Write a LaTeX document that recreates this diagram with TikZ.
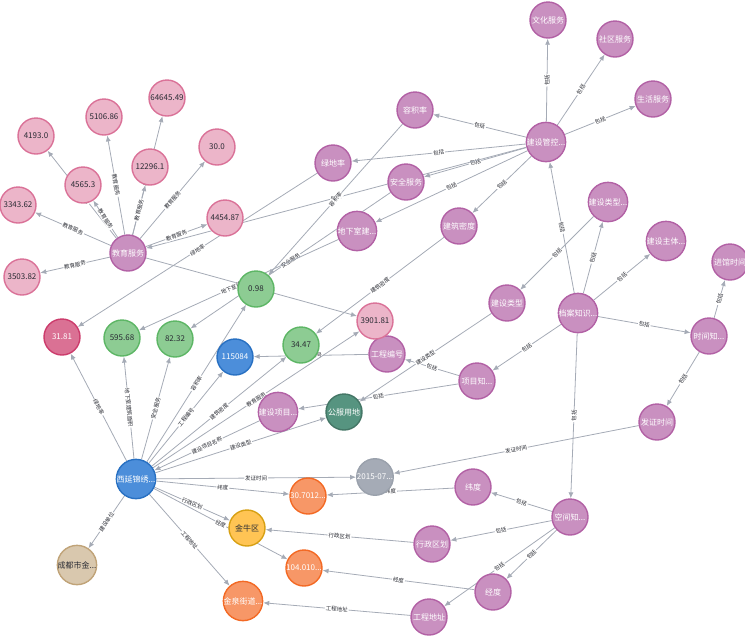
\documentclass[tikz,border=0pt]{standalone}
\usepackage{fontspec}
\newfontfamily\cjk{Noto Sans CJK SC}
\usetikzlibrary{arrows.meta}
\pgfdeclarelayer{bg}
\pgfsetlayers{bg,main}
\definecolor{purF}{HTML}{C990C0}\definecolor{purD}{HTML}{B261A5}
\definecolor{pinkF}{HTML}{ECB5C9}\definecolor{pinkD}{HTML}{DA7298}
\definecolor{dpinkF}{HTML}{DA7194}\definecolor{dpinkD}{HTML}{CC3C6C}
\definecolor{grnF}{HTML}{8DCC93}\definecolor{grnD}{HTML}{5DB665}
\definecolor{bluF}{HTML}{4C8EDA}\definecolor{bluD}{HTML}{2870C2}
\definecolor{dgrnF}{HTML}{569480}\definecolor{dgrnD}{HTML}{447666}
\definecolor{grayF}{HTML}{A5ABB6}\definecolor{grayD}{HTML}{9AA1AC}
\definecolor{orgF}{HTML}{F79767}\definecolor{orgD}{HTML}{F36924}
\definecolor{yelF}{HTML}{FFC454}\definecolor{yelD}{HTML}{D7A013}
\definecolor{tanF}{HTML}{D9C8AE}\definecolor{tanD}{HTML}{C0A378}
\definecolor{edgeC}{HTML}{A5ABB6}\definecolor{darkT}{HTML}{2A2C34}
\begin{document}
\begin{tikzpicture}[x=1pt,y=-1pt,
  nd/.style={circle, minimum size=36pt, inner sep=0pt, line width=1.4pt, font=\cjk\fontsize{8}{9}\selectfont},
  pur/.style={nd, fill=purF, draw=purD, text=white},
  pnk/.style={nd, fill=pinkF, draw=pinkD, text=darkT},
  dpk/.style={nd, fill=dpinkF, draw=dpinkD, text=white},
  grn/.style={nd, fill=grnF, draw=grnD, text=darkT},
  blu/.style={nd, fill=bluF, draw=bluD, text=white},
  dgr/.style={nd, fill=dgrnF, draw=dgrnD, text=white},
  gry/.style={nd, fill=grayF, draw=grayD, text=white},
  org/.style={nd, fill=orgF, draw=orgD, text=white},
  yel/.style={nd, fill=yelF, draw=yelD, text=darkT},
  tan/.style={nd, fill=tanF, draw=tanD, text=darkT},
  rel/.style={draw=edgeC, line width=0.8pt, -{Latex[length=6pt,width=5pt]}},
  lbl/.style={font=\cjk\fontsize{5.5}{6}\selectfont, fill=white, inner sep=0.8pt, sloped, midway, text=darkT}
]
\useasboundingbox (0,0) rectangle (745,638);
% purple schema nodes
\node[pur] (jsgk) at (546,142) {建设管控...};
\node[pur] (whfw) at (548,20) {文化服务};
\node[pur] (sqfw) at (615,39) {社区服务};
\node[pur] (shfw) at (653,99) {生活服务};
\node[pur] (rjl) at (415,110) {容积率};
\node[pur] (ldl) at (333,163) {绿地率};
\node[pur] (aqfw) at (406,182) {安全服务};
\node[pur] (dxs) at (357,231) {地下室建...};
\node[pur] (jzmd) at (459,226) {建筑密度};
\node[pur] (jslx1) at (608,202) {建设类型...};
\node[pur] (jszt) at (666,241) {建设主体...};
\node[pur] (jgsj) at (730,262) {进馆时间};
\node[pur] (jslx) at (507,303) {建设类型};
\node[pur] (dazs) at (578,313) {档案知识...};
\node[pur] (sjz) at (709,336) {时间知...};
\node[pur] (fzsj) at (657,422) {发证时间};
\node[pur] (xmz) at (477,381) {项目知...};
\node[pur] (gcbh) at (387,354) {工程编号};
\node[pur] (jyfw) at (128,253) {教育服务};
\node[pur] (jsxm) at (278,412) {建设项目...};
\node[pur] (wd) at (473,487) {纬度};
\node[pur] (kjz) at (570,517) {空间知...};
\node[pur] (xzqh) at (432,544) {行政区划};
\node[pur] (jd) at (493,592) {经度};
\node[pur] (gcdz) at (429,617) {工程地址};
% values
\node[pnk] (v3901) at (375,321) {3901.81};
\node[grn] (v3447) at (301,345) {34.47};
\node[blu] (v115) at (235,357) {115084};
\node[grn] (v098) at (256,289) {0.98};
\node[grn] (v8232) at (175,339) {82.32};
\node[grn] (v595) at (122,338) {595.68};
\node[dpk] (v3181) at (62,337) {31.81};
\node[pnk] (v4454) at (225,218) {4454.87};
\node[pnk] (v30) at (217,147) {30.0};
\node[pnk] (v12296) at (150,167) {12296.1};
\node[pnk] (v64645) at (167,98) {64645.49};
\node[pnk] (v5106) at (104,117) {5106.86};
\node[pnk] (v4565) at (83,185) {4565.3};
\node[pnk] (v4193) at (36,136) {4193.0};
\node[pnk] (v3343) at (18,205) {3343.62};
\node[pnk] (v3503) at (22,277) {3503.82};
\node[dgr] (gfyd) at (344,412) {公服用地};
\node[blu] (xy) at (136,479) {西延锦绣...};
\node[gry] (d2015) at (375,477) {2015-07...};
\node[org] (v307) at (308,496) {30.7012...};
\node[yel] (jnq) at (247,528) {金牛区};
\node[org] (v104) at (304,568) {104.010...};
\node[org] (jqjd) at (243,601) {金泉街道...};
\node[tan] (cdsj) at (77,565) {成都市金...};
\begin{pgfonlayer}{bg}
\foreach \a/\b/\l in {
  jsgk/whfw/包括, jsgk/sqfw/包括, jsgk/shfw/包括, jsgk/rjl/包括, jsgk/ldl/包括,
  jsgk/aqfw/包括, jsgk/jyfw/包括, jsgk/dxs/包括, jsgk/jzmd/包括,
  dazs/jsgk/包括, dazs/jslx1/包括, dazs/jszt/包括, dazs/sjz/包括, dazs/xmz/包括, dazs/kjz/包括,
  jslx1/jslx/包括, sjz/jgsj/包括, sjz/fzsj/包括, xmz/gcbh/包括, xmz/jsxm/包括,
  kjz/wd/包括, kjz/xzqh/包括, kjz/jd/包括, kjz/gcdz/包括,
  jyfw/v4193/教育服务, jyfw/v5106/教育服务, jyfw/v64645/教育服务, jyfw/v12296/教育服务,
  jyfw/v30/教育服务, jyfw/v4454/教育服务, jyfw/v3343/教育服务, jyfw/v3503/教育服务,
  jyfw/v4565/教育服务, jyfw/v3901/教育服务,
  rjl/v098/容积率, ldl/v3181/绿地率, aqfw/v8232/安全服务, dxs/v595/地下室建筑面积,
  jzmd/v3447/建筑密度, gcbh/v115/工程编号, jslx/gfyd/建设类型, fzsj/d2015/发证时间,
  wd/v307/纬度, xzqh/jnq/行政区划, jd/v104/经度, gcdz/jqjd/工程地址,
  xy/v3181/绿地率, xy/v595/地下室建筑面积, xy/v8232/安全服务, xy/v098/容积率,
  xy/v115/工程编号, xy/v3447/建筑密度, xy/v3901/教育服务, jsxm/xy/建设项目名称,
  xy/gfyd/建设类型, xy/d2015/发证时间, xy/v307/纬度, xy/jnq/行政区划,
  xy/v104/经度, xy/jqjd/工程地址, xy/cdsj/建设单位}
  {\draw[rel] (\a) -- node[lbl]{\l} (\b);}
\end{pgfonlayer}
\end{tikzpicture}
\end{document}
